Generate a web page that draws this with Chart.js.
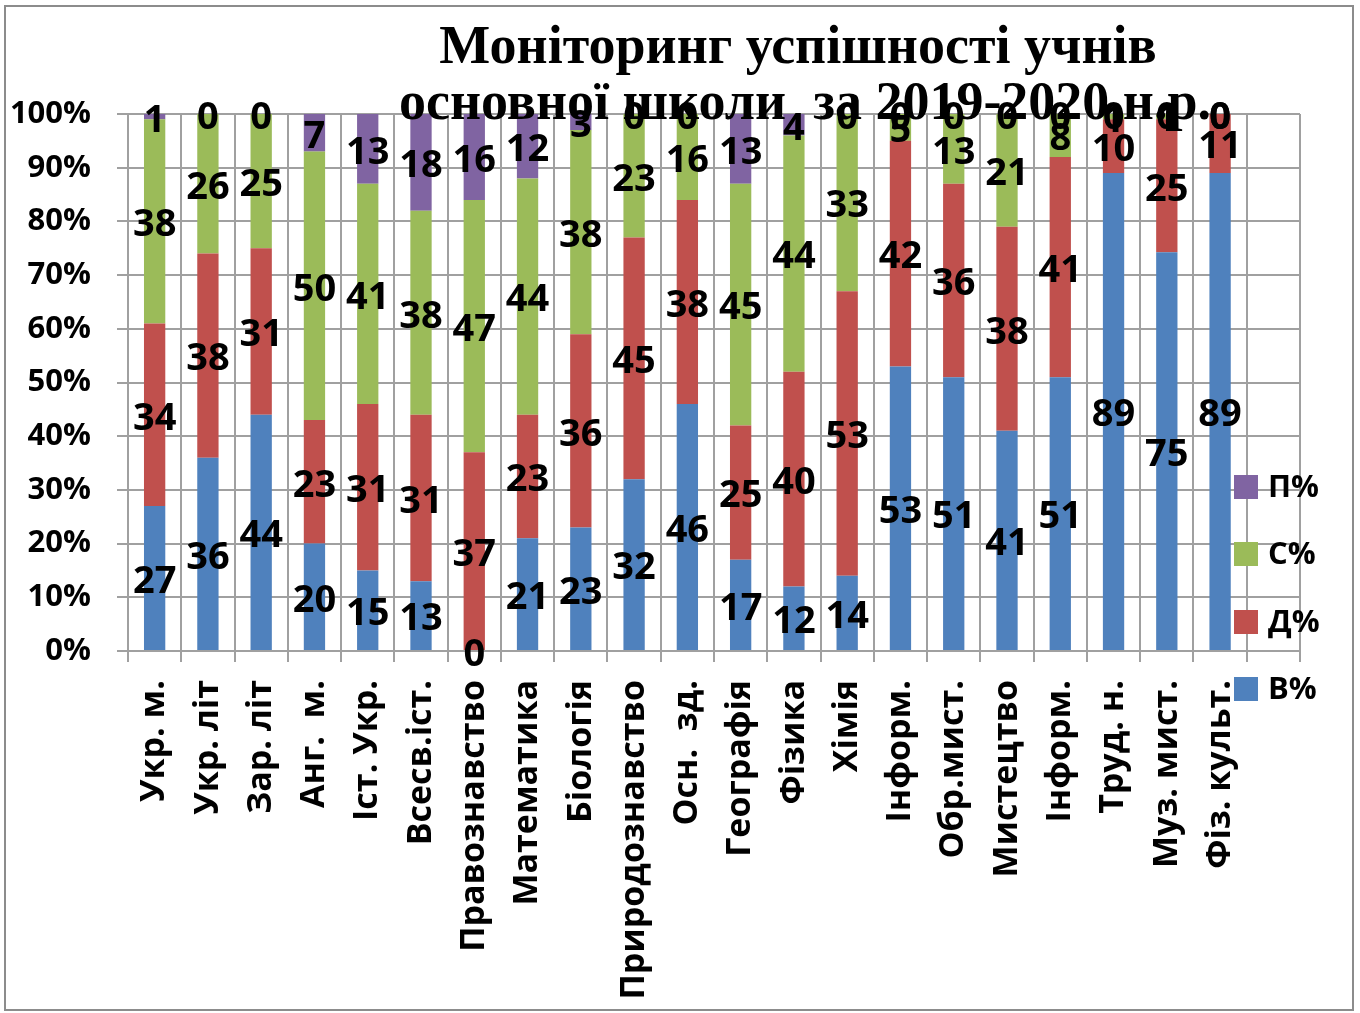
<!DOCTYPE html>
<html>
<head>
<meta charset="utf-8">
<script src="https://cdn.jsdelivr.net/npm/chart.js@4"></script>
<style>
  body { margin: 0; background: #fff; }
  #wrap { width: 1360px; height: 1013px; position: relative; }
</style>
</head>
<body>
<div id="wrap"><canvas id="chart"></canvas></div>
<script>

const categories = ["Укр. м.", "Укр. літ", "Зар. літ", "Анг.  м.", "Іст. Укр.", "Всесв.іст.",
    "Правознавство", "Математика", "Біологія", "Природознавство", "Осн.  зд.", "Географія",
    "Фізика", "Хімія", "Інформ.", "Обр.мист.", "Мистецтво", "Інформ.", "Труд. н.",
    "Муз. мист.", "Фіз. культ."];

const seriesNames = ["В%", "Д%", "С%", "П%"];
const seriesColors = ["#4F81BD", "#C0504D", "#9BBB59", "#8064A2"];

const vValues = [27, 36, 44, 20, 15, 13, 0, 21, 23, 32, 46, 17, 12, 14, 53, 51, 41, 51, 89, 75, 89];
const dValues = [34, 38, 31, 23, 31, 31, 37, 23, 36, 45, 38, 25, 40, 53, 42, 36, 38, 41, 10, 25, 11];
const sValues = [38, 26, 25, 50, 41, 38, 47, 44, 38, 23, 16, 45, 44, 33, 5, 13, 21, 8, 1, 1, 0];
const pValues = [1, 0, 0, 7, 13, 18, 16, 12, 3, 0, 0, 13, 4, 0, 0, 0, 0, 0, 0, 0, 0];

const titleLines = ["Моніторинг успішності учнів", "основної школи  за 2019-2020 н.р."];

const allValues = [vValues, dValues, sValues, pValues];

// 100% stacked: normalize each column
const totals = categories.map((c, i) => allValues.reduce((s, arr) => s + arr[i], 0));

const datasets = allValues.map((arr, k) => ({
    label: seriesNames[k],
    data: arr.map((v, i) => v / totals[i] * 100),
    rawValues: arr,
    backgroundColor: seriesColors[k],
    borderWidth: 0,
    barPercentage: 0.4,
    categoryPercentage: 1
}));

const gridColor = "#A0A0A0";

const framePlugin = {
    id: "frame",
    beforeDraw(chart) {
        const ctx = chart.ctx;
        ctx.save();
        ctx.strokeStyle = "#8C8C8C";
        ctx.lineWidth = 2;
        ctx.strokeRect(5, 6, 1348, 1004);
        ctx.restore();
    }
};

const valueLabels = {
    id: "valueLabels",
    afterDatasetsDraw(chart) {
        const ctx = chart.ctx;
        ctx.save();
        ctx.font = "bold 38px 'Open Sans'";
        ctx.fillStyle = "#000";
        ctx.textAlign = "center";
        ctx.textBaseline = "middle";
        chart.data.datasets.forEach((ds, i) => {
            const meta = chart.getDatasetMeta(i);
            meta.data.forEach((bar, j) => {
                const raw = ds.rawValues[j];
                if (raw === undefined) return;
                const p = bar.getProps(["x", "y", "base"], true);
                ctx.fillText(String(raw), p.x, (p.y + p.base) / 2 + 4);
            });
        });
        ctx.restore();
    }
};

const overlay = {
    id: "overlay",
    afterDraw(chart) {
        const ctx = chart.ctx;
        ctx.save();

        // title
        ctx.font = "bold 54px 'Liberation Serif'";
        ctx.fillStyle = "#000";
        ctx.textAlign = "center";
        ctx.textBaseline = "alphabetic";
        ctx.fillText(titleLines[0], 798, 63);
        ctx.fillText(titleLines[1], 805, 119);

        // legend, reversed order
        ctx.font = "bold 31px 'Open Sans'";
        ctx.textAlign = "left";
        ctx.textBaseline = "middle";
        const ys = [689, 622, 554, 487];
        chart.data.datasets.forEach((ds, i) => {
            ctx.fillStyle = ds.backgroundColor;
            ctx.fillRect(1234, ys[i] - 12, 24, 24);
            ctx.fillStyle = "#000";
            ctx.fillText(ds.label, 1268, ys[i] + 1);
        });
        ctx.restore();
    }
};

new Chart(document.getElementById("chart"), {
    type: "bar",
    data: {
        labels: categories.concat([""]),
        datasets: datasets
    },
    options: {
        responsive: true,
        maintainAspectRatio: false,
        animation: false,
        layout: {
            padding: { top: 114, right: 60, left: 0, bottom: 0 }
        },
        plugins: {
            legend: { display: false },
            title: { display: false },
            tooltip: { enabled: false }
        },
        scales: {
            x: {
                stacked: true,
                grid: { color: gridColor, lineWidth: 2, offset: true, tickLength: 11 },
                border: { color: gridColor, width: 2 },
                ticks: {
                    autoSkip: false,
                    maxRotation: 90,
                    minRotation: 90,
                    padding: 18,
                    color: "#000",
                    font: { family: "'Open Sans'", size: 34, weight: "bold" }
                },
                afterFit(scale) { scale.height = 362; }
            },
            y: {
                stacked: true,
                min: 0,
                max: 100,
                grid: { color: gridColor, lineWidth: 2, tickLength: 11 },
                border: { color: gridColor, width: 2 },
                ticks: {
                    stepSize: 10,
                    padding: 26,
                    color: "#000",
                    font: { family: "'Open Sans'", size: 31, weight: "bold" },
                    callback: v => v + "%"
                },
                afterFit(scale) { scale.width = 128; }
            }
        }
    },
    plugins: [framePlugin, valueLabels, overlay]
});

</script>
</body>
</html>
